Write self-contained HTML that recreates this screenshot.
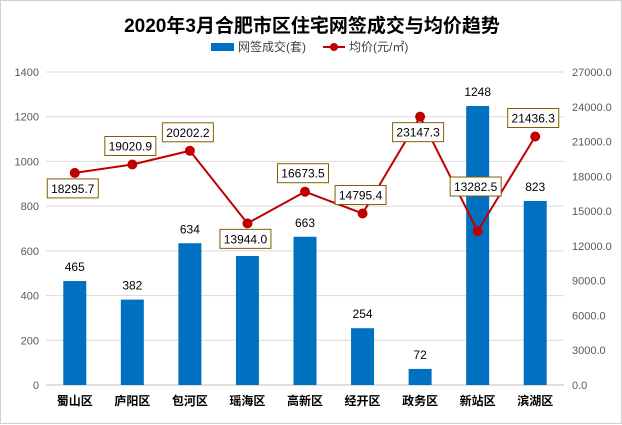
<!DOCTYPE html>
<html><head><meta charset="utf-8">
<style>
body{margin:0;background:#fff;}
#wrap{position:relative;width:620px;height:422px;border:1px solid #d0d0d0;background:#fff;}
svg{position:absolute;left:0;top:0;}
text{font-family:"Liberation Sans","Noto Sans CJK SC",sans-serif;}
</style></head><body>
<div id="wrap">
<svg id="c" width="622" height="424"></svg>
</div>
<script>
const categories=["蜀山区","庐阳区","包河区","瑶海区","高新区","经开区","政务区","新站区","滨湖区"];
const salesValues=[465,382,634,577,663,254,72,1248,823];
const priceValues=[18295.7,19020.9,20202.2,13944.0,16673.5,14795.4,23147.3,13282.5,21436.3];
const leftTicks=[0,200,400,600,800,1000,1200,1400];
const rightTicks=[0,3000,6000,9000,12000,15000,18000,21000,24000,27000];
const labelSide=["b","a","a","b","a","a","b","A","a"];

const NS="http://www.w3.org/2000/svg";
const svg=document.getElementById('c');
const X0=45,X1=563,Y0=384,Y1=71;
const band=(X1-X0)/categories.length;
const xc=i=>X0+band*(i+0.5);
const yL=v=>Y0-(Y0-Y1)*v/1400;
const yR=v=>Y0-(Y0-Y1)*v/27000;
function mk(t,a,p){const e=document.createElementNS(NS,t);for(const k in a)e.setAttribute(k,a[k]);(p||svg).appendChild(e);return e;}

let t=mk('text',{x:311,y:31,'text-anchor':'middle','font-size':19,'font-weight':'bold',fill:'#000'});t.textContent="2020年3月合肥市区住宅网签成交与均价趋势";


let lg=mk('g',{});


mk('rect',{x:210,y:42,width:23,height:8,fill:'#0070c0'},lg);
t=mk('text',{x:237,y:50,'font-size':12,fill:'#404040'},lg);t.textContent="网签成交(套)";
mk('line',{x1:322,y1:46,x2:344,y2:46,stroke:'#c00000','stroke-width':2},lg);
mk('circle',{cx:333,cy:46,r:4,fill:'#c00000'},lg);
t=mk('text',{x:348,y:50,'font-size':12,fill:'#404040'},lg);t.textContent="均价(元/㎡)";
leftTicks.forEach(v=>{
  let g=mk('line',{x1:X0,x2:X1,y1:yL(v),y2:yL(v),stroke:v===0?'#bfbfbf':'#d9d9d9','stroke-width':1});
  
  
  let tt=mk('text',{x:38,y:yL(v)+4,'text-anchor':'end','font-size':11,fill:'#595959'});tt.textContent=v;
  
  
});
rightTicks.forEach(v=>{
  let tt=mk('text',{x:571,y:yR(v)+4,'font-size':11,fill:'#595959'});tt.textContent=v.toFixed(1);
  
  
});
categories.forEach((c,i)=>{
  const v=salesValues[i];
  let r=mk('rect',{x:xc(i)-11.5,y:yL(v),width:23,height:Y0-yL(v),fill:'#0070c0'});
  
  
  let tt=mk('text',{x:xc(i),y:yL(v)-10,'text-anchor':'middle','font-size':12,fill:'#000'});tt.textContent=v;
  
  
  let cl=mk('text',{x:xc(i),y:404,'text-anchor':'middle','font-size':12,'font-weight':'bold',fill:'#000'});cl.textContent=c;
  
  
});
let pts=priceValues.map((v,i)=>xc(i)+','+yR(v)).join(' ');
let pl=mk('polyline',{points:pts,fill:'none',stroke:'#c00000','stroke-width':2});


priceValues.forEach((v,i)=>{
  let cc=mk('circle',{cx:xc(i),cy:yR(v),r:5,fill:'#c00000'});
  
  
  const w=51,h=19,s=labelSide[i];
  const y=s==='a'?yR(v)-9-h:(s==='A'?yR(v)-35-h:yR(v)+6);
  let g=mk('g',{});
  
  
  mk('rect',{x:xc(i)-w/2-2,y:y,width:w,height:h,fill:'#fff',stroke:'#7f6000','stroke-width':1},g);
  let tt=mk('text',{x:xc(i)-2,y:y+14,'text-anchor':'middle','font-size':12,fill:'#000'},g);tt.textContent=v.toFixed(1);
});
</script>
</body></html>
